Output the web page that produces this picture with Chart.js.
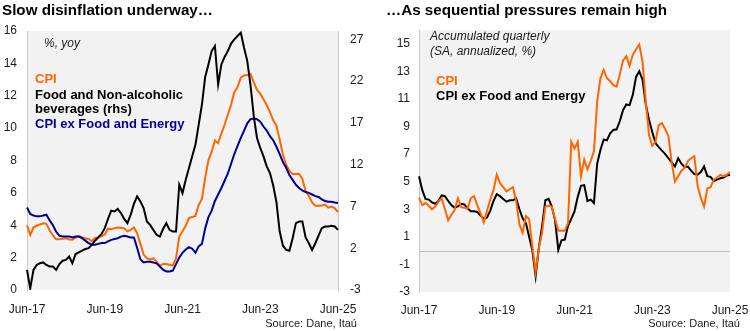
<!DOCTYPE html>
<html>
<head>
<meta charset="utf-8">
<script src="https://cdn.jsdelivr.net/npm/chart.js@4/dist/chart.umd.min.js"></script>
<style>
  html, body { margin:0; padding:0; background:#fff; }
  #wrap { position:relative; width:750px; height:331px; overflow:hidden; font-family:"Liberation Sans", Arial, sans-serif; }
  canvas { position:absolute; top:0; }
  .t { position:absolute; white-space:nowrap; line-height:1; }
  .title { font-weight:bold; font-size:15.2px; color:#000; }
  .leg { font-weight:bold; font-size:13px; }
  .it { font-style:italic; font-size:12px; color:#1a1a1a; }
  .src { font-size:11px; color:#1a1a1a; text-align:right; }
</style>
</head>
<body>
<div id="wrap">
  <canvas id="c1" width="375" height="331" style="left:0"></canvas>
  <canvas id="c2" width="375" height="331" style="left:375px"></canvas>

  <div class="t title" style="left:2px;top:2px;">Slow disinflation underway…</div>
  <div class="t title" style="left:386px;top:2px;">…As sequential pressures remain high</div>

  <div class="t it" style="left:44px;top:37px;">%, yoy</div>
  <div class="t leg" style="left:35px;top:72px;color:#ff6600;">CPI</div>
  <div class="t leg" style="left:35px;top:88px;color:#000;">Food and Non-alcoholic</div>
  <div class="t leg" style="left:35px;top:102px;color:#000;">beverages (rhs)</div>
  <div class="t leg" style="left:35px;top:117px;color:#000099;">CPI ex Food and Energy</div>

  <div class="t it" style="left:430px;top:30px;">Accumulated quarterly</div>
  <div class="t it" style="left:430px;top:45px;">(SA, annualized, %)</div>
  <div class="t leg" style="left:436px;top:74px;color:#ff6600;">CPI</div>
  <div class="t leg" style="left:436px;top:89px;color:#000;">CPI ex Food and Energy</div>

  <div class="t src" style="right:393px;top:318px;">Source: Dane, Itaú</div>
  <div class="t src" style="right:10px;top:318px;">Source: Dane, Itaú</div>
</div>
<script>
// ---- categories: monthly, Jun-17 .. Jun-25 ----
const monthNames = ["Jan","Feb","Mar","Apr","May","Jun","Jul","Aug","Sep","Oct","Nov","Dec"];
const months = [];
for (let y = 2017, m = 5; y < 2025 || (y === 2025 && m <= 5); ) {
  months.push(monthNames[m] + "-" + String(y).slice(2));
  m++; if (m > 11) { m = 0; y++; }
}

// ---- left panel: yoy inflation ----
const cpiYoy = [3.99,3.40,3.87,3.97,4.05,4.12,4.09,
  3.68,3.37,3.14,3.13,3.16,3.20,3.12,3.10,3.23,3.33,3.27,3.18,
  3.15,3.01,3.21,3.25,3.31,3.43,3.79,3.75,3.82,3.86,3.84,3.80,
  3.62,3.72,3.86,3.51,2.85,2.19,1.97,1.88,1.97,1.75,1.49,1.61,
  1.60,1.56,1.51,1.95,3.30,3.63,3.97,4.44,4.51,4.58,5.26,5.62,
  6.94,8.01,8.53,9.23,9.07,9.67,10.21,10.84,11.44,12.22,12.53,13.12,
  13.25,13.28,13.34,12.82,12.36,12.13,11.78,11.43,10.99,10.48,10.15,9.28,
  8.35,7.74,7.36,7.16,7.16,7.18,6.86,6.12,5.81,5.41,5.20,5.20,
  5.22,5.28,5.09,5.16,5.05,4.82];
const foodYoy = [-0.6,-2.8,-0.6,0.0,0.2,0.3,0.0,
  -0.2,-0.2,-0.6,0.1,0.5,0.6,1.0,0.2,1.3,1.5,1.7,1.9,
  2.0,2.4,2.9,3.3,3.7,4.4,5.5,6.5,6.4,6.7,6.2,5.5,
  5.0,6.0,7.3,8.2,7.6,6.8,5.2,4.8,4.2,3.6,3.4,4.3,
  5.0,4.2,4.0,4.0,9.6,8.6,10.2,11.6,13.0,14.4,16.8,19.2,
  22.5,24.0,25.6,26.2,21.6,24.0,24.9,25.6,26.5,27.0,27.4,27.8,
  26.0,24.4,21.5,17.8,15.2,14.0,13.0,11.8,11.0,9.5,7.5,4.0,
  2.3,1.8,1.7,3.2,5.0,5.2,5.2,3.3,2.6,1.8,2.6,3.5,
  4.4,4.6,4.6,4.7,4.6,4.2];
const coreYoy = [5.1,4.7,4.6,4.55,4.55,4.6,4.65,
  4.3,4.0,3.6,3.35,3.3,3.3,3.3,3.25,3.3,3.3,3.2,3.05,
  2.9,2.8,2.8,2.85,2.9,2.9,3.0,3.1,3.15,3.2,3.3,3.35,
  3.3,3.25,3.25,2.6,1.9,1.7,1.75,1.75,1.7,1.65,1.45,1.25,
  1.15,1.15,1.2,1.6,2.0,2.3,2.5,2.65,2.55,2.3,2.7,2.85,
  3.8,4.5,4.9,5.5,5.9,6.3,6.75,7.2,7.8,8.4,8.9,9.4,
  9.85,10.3,10.55,10.6,10.55,10.4,10.1,9.85,9.5,9.25,8.85,8.4,
  7.9,7.55,7.1,6.8,6.5,6.3,6.15,6.05,6.0,5.9,5.8,5.75,
  5.6,5.5,5.45,5.45,5.4,5.38];
const leftTicks = [0,2,4,6,8,10,12,14,16];
const rightTicks = [-3,2,7,12,17,22,27];

// ---- right panel: accumulated quarterly SA annualized ----
const cpiQ = [3.85,3.3,3.45,3.25,3.0,3.2,3.55,
  3.8,3.0,2.2,2.6,2.95,3.8,3.15,3.1,3.05,3.8,3.95,3.3,
  2.7,2.05,2.9,3.7,4.4,5.5,4.9,4.6,4.3,4.45,4.6,3.6,
  1.9,1.3,2.5,2.3,0.3,-1.55,0.2,1.3,3.2,3.25,3.2,2.3,
  1.45,1.45,1.45,2.0,7.9,7.4,7.9,5.4,6.6,5.9,6.5,7.2,
  10.8,12.5,13.1,12.5,12.3,12.0,11.9,12.8,13.8,14.1,13.4,14.2,
  14.6,14.95,13.7,10.8,8.4,7.6,7.9,9.1,9.25,8.8,8.3,6.4,
  5.0,5.4,5.8,6.0,6.5,6.7,6.85,4.7,3.8,3.2,4.5,4.6,
  5.15,5.3,5.5,5.4,5.5,5.7];
const coreQ = [5.4,4.4,3.75,3.7,3.5,3.4,3.6,
  4.0,3.95,3.6,3.3,3.1,3.2,3.4,3.35,3.05,2.85,2.85,2.8,
  2.55,2.3,2.4,2.9,3.6,4.1,3.95,3.75,3.55,3.65,3.65,3.8,
  3.0,2.35,2.0,1.0,0.0,-1.85,0.2,1.8,3.65,3.75,3.2,2.2,
  0.05,0.75,0.8,1.8,2.3,2.85,3.9,4.7,4.75,3.6,3.7,3.45,
  6.3,7.3,8.05,8.0,8.5,8.75,8.8,9.4,10.2,10.6,10.55,11.3,
  12.6,13.0,12.4,10.6,9.5,8.6,7.8,7.5,7.25,7.0,6.7,6.4,
  6.1,6.7,6.3,6.05,6.1,5.8,5.55,5.5,5.7,6.1,5.4,5.35,
  5.05,5.15,5.25,5.3,5.45,5.5];
const qTicks = [-3,-1,1,3,5,7,9,11,13,15];

// ---- helpers ----
const FONT = {family: '"Liberation Sans", Arial, sans-serif', size: 12};
const TICKCOL = '#1a1a1a';
const AXISCOL = '#c8c8c8';
const ORANGE = '#ff6600', BLUE = '#000099', BLACK = '#000000';

const bgPlugin = {
  id: 'bg',
  beforeDraw(chart) {
    const {ctx, chartArea: a} = chart;
    ctx.save();
    ctx.fillStyle = '#f2f2f2';
    ctx.fillRect(a.left, a.top, a.right - a.left, a.bottom - a.top);
    ctx.restore();
  }
};
const zeroPlugin = {
  id: 'zero',
  beforeDatasetsDraw(chart) {
    const y = chart.scales.y;
    const a = chart.chartArea;
    const py = Math.round(y.getPixelForValue(0)) + 0.5;
    const ctx = chart.ctx;
    ctx.save();
    ctx.strokeStyle = '#bfbfbf';
    ctx.lineWidth = 1;
    ctx.beginPath(); ctx.moveTo(a.left, py); ctx.lineTo(a.right, py); ctx.stroke();
    ctx.restore();
  }
};

function xScale(h, pad) {
  return {
    type: 'category',
    grid: {display: false, drawTicks: false},
    border: {display: false},
    ticks: {autoSkip: false, maxRotation: 0, minRotation: 0, padding: pad, font: FONT, color: TICKCOL},
    afterBuildTicks: s => { s.ticks = s.ticks.filter((t, i) => i % 24 === 0); },
    afterFit: s => { s.height = h; s.paddingLeft = 0; s.paddingRight = 0; }
  };
}
function yScale(pos, min, max, tickVals, w, pad, border) {
  return {
    type: 'linear', position: pos, min, max,
    grid: {display: false, drawTicks: false},
    border: {display: border, color: AXISCOL, width: 1},
    ticks: {autoSkip: false, padding: pad, font: FONT, color: TICKCOL},
    afterBuildTicks: s => { s.ticks = tickVals.map(v => ({value: v})); },
    afterFit: s => { s.width = w; s.paddingTop = 0; s.paddingBottom = 0; }
  };
}
function ds(label, data, color, axis) {
  return {label, data, borderColor: color, backgroundColor: color, borderWidth: 2,
    pointRadius: 0, pointHoverRadius: 0, tension: 0, yAxisID: axis, fill: false};
}
const common = {
  responsive: false, animation: false, devicePixelRatio: 1,
  plugins: {legend: {display: false}, tooltip: {enabled: false}, title: {display: false}},
  events: []
};

new Chart(document.getElementById('c1'), {
  type: 'line',
  data: {
    labels: months,
    datasets: [
      ds('Food and Non-alcoholic beverages (rhs)', foodYoy, BLACK, 'y1'),
      ds('CPI ex Food and Energy', coreYoy, BLUE, 'y'),
      ds('CPI', cpiYoy, ORANGE, 'y')
    ]
  },
  options: Object.assign({}, common, {
    layout: {padding: {top: 31, bottom: 0, left: 0, right: 0}},
    scales: {
      x: xScale(41, 12),
      y: yScale('left', 0, 16, leftTicks, 27, 10, true),
      y1: yScale('right', -3, 28, rightTicks, 37, 12, true)
    }
  }),
  plugins: [bgPlugin]
});

new Chart(document.getElementById('c2'), {
  type: 'line',
  data: {
    labels: months,
    datasets: [
      ds('CPI', cpiQ, ORANGE, 'y'),
      ds('CPI ex Food and Energy', coreQ, BLACK, 'y')
    ]
  },
  options: Object.assign({}, common, {
    layout: {padding: {top: 30, bottom: 0, left: 0, right: 20}},
    scales: {
      x: xScale(39, 11),
      y: yScale('left', -3, 16, qTicks, 44, 9, true)
    }
  }),
  plugins: [bgPlugin, zeroPlugin]
});
</script>
</body>
</html>
